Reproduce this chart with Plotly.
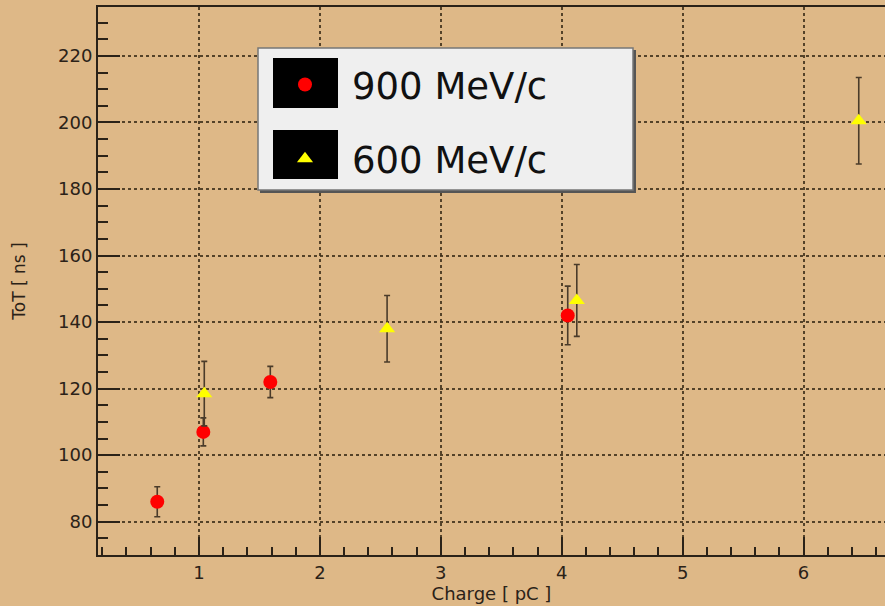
import plotly.graph_objects as go

# ---- data ----
x_900 = [0.655, 1.036, 1.59, 4.05]
y_900 = [86.0, 107.0, 122.0, 142.0]
e_900 = [4.5, 4.2, 4.7, 8.8]

x_600 = [1.044, 2.556, 4.125, 6.457]
y_600 = [118.5, 138.0, 146.5, 200.5]
e_600 = [9.7, 10.0, 10.8, 13.0]

name_900 = "900 MeV/c"
name_600 = "600 MeV/c"
x_title = "Charge [ pC ]"
y_title = "ToT [ ns ]"

# ---- layout constants (pixels) ----
W, H = 885, 606
ML, MR, MT, MB = 98, 0, 7, 51
PW, PH = W - ML - MR, H - MT - MB
BG = "#DEB887"
INK = "#2b2218"
ERR = "#4a3b2a"
FONT = "DejaVu Sans"


def px(xp):
    return (xp - ML) / PW


def py(yp):
    return (H - MB - yp) / PH


fig = go.Figure()
fig.add_trace(go.Scatter(
    x=x_900, y=y_900, mode="markers", name=name_900,
    legendgroup="a",
    marker=dict(symbol="circle", size=14, color="#ff0000", line=dict(width=0)),
    error_y=dict(type="data", array=e_900, color=ERR, thickness=1.6, width=3),
))
fig.add_trace(go.Scatter(
    x=x_600, y=y_600, mode="markers", name=name_600,
    legendgroup="b",
    marker=dict(symbol="triangle-up", size=14, color="#ffff00", line=dict(width=0)),
    error_y=dict(type="data", array=e_600, color=ERR, thickness=1.6, width=3),
))

shapes = []
# legend box shadow and box
shapes.append(dict(type="rect", xref="paper", yref="paper",
                   x0=px(260), x1=px(636), y0=py(193), y1=py(50),
                   fillcolor="#555555", line=dict(width=0), layer="above"))
shapes.append(dict(type="rect", xref="paper", yref="paper",
                   x0=px(258), x1=px(633), y0=py(190), y1=py(48),
                   fillcolor="#efefef", line=dict(color="#777777", width=1.5), layer="above"))
# black symbol backgrounds
for (y0, y1) in [(58, 108), (130, 179)]:
    shapes.append(dict(type="rect", xref="paper", yref="paper",
                       x0=px(273), x1=px(338), y0=py(y1), y1=py(y0),
                       fillcolor="#000000", line=dict(width=0), layer="above"))

fig.update_layout(
    width=W, height=H,
    margin=dict(l=ML, r=MR, t=MT, b=MB),
    paper_bgcolor=BG, plot_bgcolor=BG,
    font=dict(family=FONT, color=INK),
    shapes=shapes,
    showlegend=True,
    legend=dict(
        x=px(258), y=py(54), xanchor="left", yanchor="top",
        bgcolor="rgba(0,0,0,0)", borderwidth=0,
        font=dict(family=FONT, size=37, color="#111111"),
        itemwidth=84, traceorder="grouped", tracegroupgap=23,
        itemclick=False,
    ),
    xaxis=dict(
        range=[0.165, 6.674],
        tickmode="linear", tick0=0, dtick=1,
        ticks="inside", ticklen=18, tickwidth=2, tickcolor=INK,
        minor=dict(dtick=0.2, ticks="inside", ticklen=8, tickwidth=1.5, tickcolor=INK, showgrid=False),
        showline=True, linecolor=INK, linewidth=2, mirror=True,
        showgrid=True, gridcolor="rgba(60,45,25,0.85)", gridwidth=1.5, griddash="dot",
        zeroline=False,
        tickfont=dict(family=FONT, size=18, color=INK),
        title=dict(text=x_title, font=dict(family=FONT, size=18, color=INK), standoff=4),
    ),
    yaxis=dict(
        range=[70, 234.7],
        tickmode="linear", tick0=0, dtick=20,
        ticks="inside", ticklen=22, tickwidth=2, tickcolor=INK,
        minor=dict(dtick=5, ticks="inside", ticklen=10, tickwidth=1.5, tickcolor=INK, showgrid=False),
        showline=True, linecolor=INK, linewidth=2, mirror=False,
        showgrid=True, gridcolor="rgba(60,45,25,0.85)", gridwidth=1.5, griddash="dot",
        zeroline=False,
        tickfont=dict(family=FONT, size=18, color=INK),
        title=dict(text=y_title, font=dict(family=FONT, size=17, color=INK), standoff=28),
    ),
)

fig.write_html("out.html")
